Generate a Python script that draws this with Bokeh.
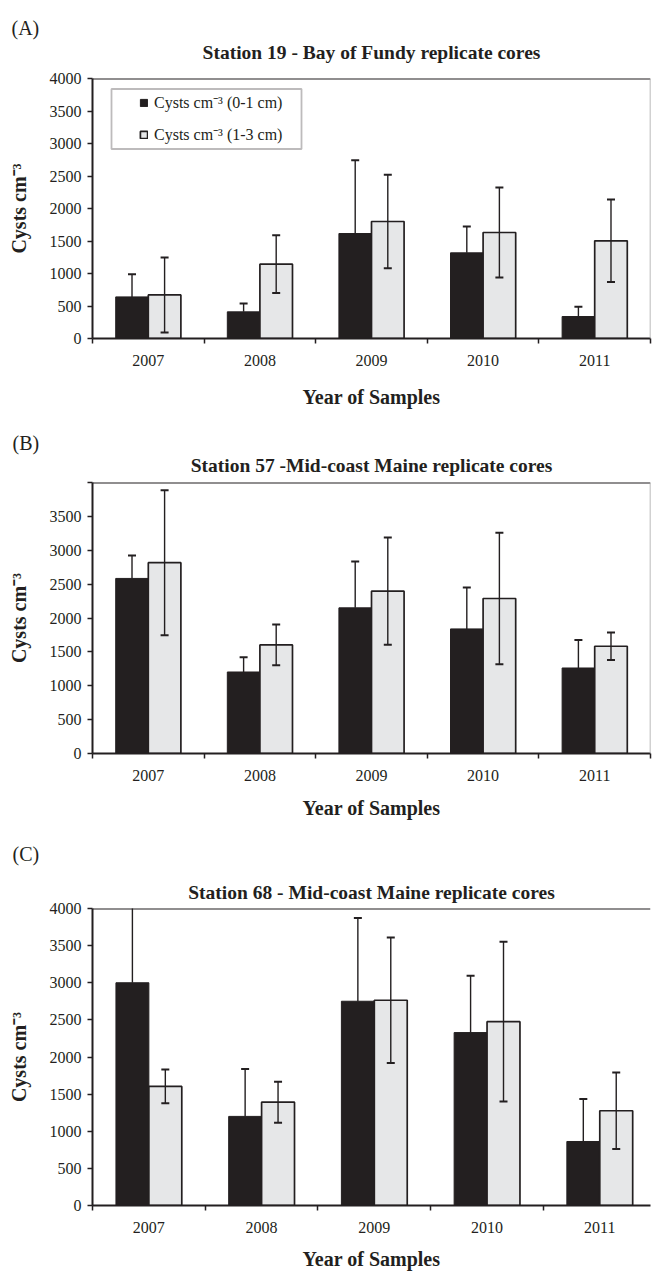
from bokeh.plotting import figure
from bokeh.layouts import column
from bokeh.models import Range1d, FixedTicker, Title, BoxAnnotation, Span
from bokeh.embed import file_html
from bokeh.resources import INLINE

# Sampling years (x categories)
years = ["2007", "2008", "2009", "2010", "2011"]

# Station 19 - Bay of Fundy: cysts cm-3, mean and error, 0-1 cm and 1-3 cm layers
st19_top = [640, 410, 1615, 1318, 338]
st19_top_err = [350, 128, 1129, 405, 149]
st19_sub = [670, 1144, 1800, 1631, 1503]
st19_sub_err = [577, 443, 720, 692, 635]

# Station 57 - Mid-coast Maine
st57_top = [2584, 1203, 2150, 1839, 1262]
st57_top_err = [340, 217, 685, 612, 415]
st57_sub = [2816, 1603, 2396, 2288, 1583]
st57_sub_err = [1070, 300, 792, 969, 202]

# Station 68 - Mid-coast Maine
st68_top = [3000, 1200, 2751, 2329, 862]
st68_top_err = [1150, 640, 1120, 764, 574]
st68_sub = [1604, 1391, 2764, 2476, 1276]
st68_sub_err = [227, 275, 845, 1075, 515]

y_ticks_full = [0, 500, 1000, 1500, 2000, 2500, 3000, 3500, 4000]

INK = "#231f20"
PALE = "#e6e7e8"
EDGE = "#a3a3a3"
SERIF = "Liberation Serif"


def make_panel(tag, heading, top, top_err, sub, sub_err, height, b_left, b_top,
               b_bottom, b_right, x_end, hide_top_label, title_standoff,
               tag_standoff, xlabel_standoff, legend=False):
    frame_h = height - b_top - b_bottom
    p = figure(width=655, height=height, x_range=Range1d(0, x_end),
               y_range=Range1d(0, 4000), output_backend="svg",
               toolbar_location=None, min_border_left=b_left,
               min_border_right=b_right, min_border_top=b_top,
               min_border_bottom=b_bottom)
    p.background_fill_color = "white"
    p.border_fill_color = "white"
    p.xgrid.visible = False
    p.ygrid.visible = False
    p.outline_line_color = None

    # top edge of the plot area, and the right edge when it is inside the page
    p.add_layout(Span(location=4000, dimension="width", line_color=INK,
                      line_width=2))
    if x_end >= len(years):
        p.add_layout(Span(location=len(years), dimension="height",
                          line_color=EDGE, line_width=1.5))

    bw = 0.292
    centers = [i + 0.5 for i in range(len(years))]
    xa = [c - bw / 2 for c in centers]
    xb = [c + bw / 2 for c in centers]

    kw_a = {"legend_label": "Cysts cm\u207b\u00b3 (0-1 cm)"} if legend else {}
    kw_b = {"legend_label": "Cysts cm\u207b\u00b3 (1-3 cm)"} if legend else {}
    p.vbar(x=xa, top=top, width=bw, fill_color=INK, line_color=INK,
           line_width=1, **kw_a)
    p.vbar(x=xb, top=sub, width=bw, fill_color=PALE, line_color=INK,
           line_width=1.7, **kw_b)

    # error bars: upper arm on the dark bars, both arms on the pale bars
    a_hi = [v + e for v, e in zip(top, top_err)]
    b_hi = [v + e for v, e in zip(sub, sub_err)]
    b_lo = [v - e for v, e in zip(sub, sub_err)]
    p.segment(x0=xa, y0=top, x1=xa, y1=a_hi, line_color=INK, line_width=1.4)
    p.segment(x0=xb, y0=b_lo, x1=xb, y1=b_hi, line_color=INK, line_width=1.4)
    p.scatter(x=xa, y=a_hi, marker="dash", size=8, line_color=INK, line_width=2)
    p.scatter(x=xb + xb, y=b_hi + b_lo, marker="dash", size=8, line_color=INK,
              line_width=2)

    # y axis
    yax = p.yaxis[0]
    yax.ticker = FixedTicker(ticks=y_ticks_full)
    if hide_top_label:
        yax.major_label_overrides = {4000: ""}
    yax.major_tick_out = 5
    yax.major_tick_in = 0
    yax.minor_tick_out = 0
    yax.minor_tick_in = 0
    yax.major_tick_line_color = INK
    yax.major_tick_line_width = 1.5
    yax.axis_line_color = INK
    yax.axis_line_width = 2
    yax.major_label_text_font = SERIF
    yax.major_label_text_font_size = "16px"
    yax.major_label_text_color = INK
    yax.major_label_standoff = 6
    yax.axis_label = "Cysts cm\u207b\u00b3"
    yax.axis_label_text_font = SERIF
    yax.axis_label_text_font_size = "20px"
    yax.axis_label_text_font_style = "bold"
    yax.axis_label_text_color = INK
    yax.axis_label_standoff = 17

    # x axis: year labels at category centres, tick marks at boundaries
    xax = p.xaxis[0]
    xax.ticker = FixedTicker(ticks=centers,
                             minor_ticks=list(range(len(years) + 1)))
    xax.major_label_overrides = {c: y for c, y in zip(centers, years)}
    xax.major_tick_out = 0
    xax.major_tick_in = 0
    xax.minor_tick_out = 5
    xax.minor_tick_in = 0
    xax.minor_tick_line_color = INK
    xax.minor_tick_line_width = 1.5
    xax.axis_line_color = INK
    xax.axis_line_width = 2
    xax.major_label_text_font = SERIF
    xax.major_label_text_font_size = "16px"
    xax.major_label_text_color = INK
    xax.major_label_standoff = 11
    xax.axis_label = "Year of Samples"
    xax.axis_label_text_font = SERIF
    xax.axis_label_text_font_size = "20px"
    xax.axis_label_text_font_style = "bold"
    xax.axis_label_text_color = INK
    xax.axis_label_standoff = xlabel_standoff

    # chart heading (next to the frame) and panel tag (outermost)
    p.add_layout(Title(text=heading, align="center", text_font=SERIF,
                       text_font_size="19.5px", text_font_style="bold",
                       text_color=INK, standoff=title_standoff), "above")
    p.add_layout(Title(text=tag, align="left", offset=11 - b_left,
                       text_font=SERIF, text_font_size="20px",
                       text_font_style="normal", text_color=INK,
                       standoff=tag_standoff), "above")

    if legend:
        # framed key in the upper left corner of the plot area
        p.add_layout(BoxAnnotation(left=19, right=209, top=frame_h - 10.5,
                                   bottom=frame_h - 70.5, left_units="screen",
                                   right_units="screen", top_units="screen",
                                   bottom_units="screen", fill_color="white",
                                   fill_alpha=1.0, line_color=INK,
                                   line_width=1.8, level="annotation"))
        lg = p.legend[0]
        lg.location = (41, frame_h - 73)
        lg.padding = 6
        lg.spacing = 10
        lg.label_text_font = SERIF
        lg.label_text_font_size = "16px"
        lg.label_text_color = INK
        lg.label_height = 14
        lg.glyph_height = 9
        lg.glyph_width = 9
        lg.label_standoff = 6
        lg.border_line_alpha = 0
        lg.background_fill_alpha = 0
        lg.level = "overlay"
    return p


pa = make_panel("(A)", "Station 19 - Bay of Fundy replicate cores",
                st19_top, st19_top_err, st19_sub, st19_sub_err,
                height=415, b_left=92, b_top=78, b_bottom=77, b_right=5,
                x_end=5, hide_top_label=False, title_standoff=31,
                tag_standoff=-29, xlabel_standoff=17, legend=True)
pb = make_panel("(B)", "Station 57 -Mid-coast Maine replicate cores",
                st57_top, st57_top_err, st57_sub, st57_sub_err,
                height=415, b_left=91, b_top=67, b_bottom=77, b_right=5,
                x_end=5, hide_top_label=True, title_standoff=14,
                tag_standoff=-17, xlabel_standoff=13)
pc = make_panel("(C)", "Station 68 - Mid-coast Maine replicate cores",
                st68_top, st68_top_err, st68_sub, st68_sub_err,
                height=442, b_left=91, b_top=78, b_bottom=64, b_right=0,
                x_end=4.95, hide_top_label=False, title_standoff=12,
                tag_standoff=17, xlabel_standoff=12)

layout = column(pa, pb, pc, spacing=0)
open("out.html", "w").write(file_html(layout, INLINE))
